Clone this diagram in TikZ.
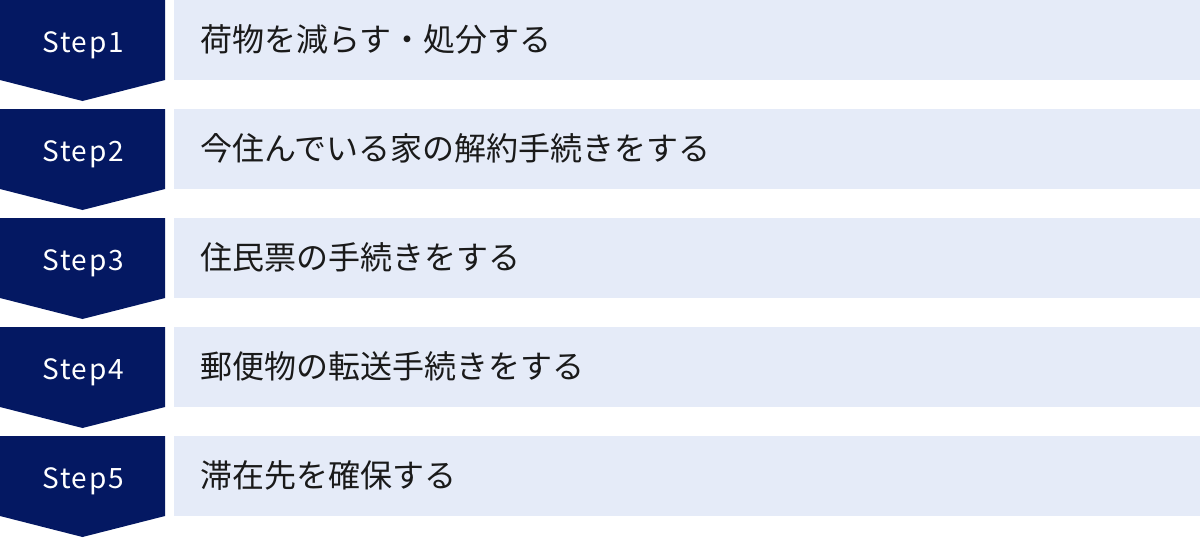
\documentclass[tikz,border=0pt]{standalone}
\usepackage{fontspec}
\newfontfamily\jpfont{Noto Sans CJK JP}
\newfontfamily\stepfont[LetterSpace=6]{Noto Sans CJK JP}
\usepackage{tikz}
\usetikzlibrary{positioning}
\definecolor{stepnavy}{HTML}{041862}
\definecolor{taskbg}{HTML}{E5EBF8}
\definecolor{tasktext}{HTML}{1A1A1A}
\tikzset{
	steparrow/.style={fill=stepnavy, draw=none},
	taskbox/.style={fill=taskbg, draw=none},
	steplabel/.style={inner sep=0, anchor=base, text=white, font=\stepfont\fontsize{28}{34}\selectfont},
	tasklabel/.style={inner sep=0, anchor=base west, text=tasktext, font=\jpfont\fontsize{32}{38}\selectfont}
}

\begin{document}
\begin{tikzpicture}[x=1pt,y=-1pt]
		\useasboundingbox (0,0) rectangle (1200,538);
		% Schritte
		\foreach \i/\txt in {1/荷物を減らす・処分する,
			2/今住んでいる家の解約手続きをする,
			3/住民票の手続きをする,
			4/郵便物の転送手続きをする,
			5/滞在先を確保する}{
			\pgfmathsetmacro{\top}{(\i-1)*109}
			\fill[steparrow] (0,\top) -- (165,\top) -- (165,\top+80) -- (82.5,\top+101) -- (0,\top+80) -- cycle; % Pfeil
			\fill[taskbox] (174,\top) rectangle (1200,\top+80);	% Feld
			\node[steplabel] (step\i) at (83,\top+52) {Step\i};
			\node[tasklabel] (task\i) at (200,\top+51.5) {\txt};
		}
\end{tikzpicture}
\end{document}
